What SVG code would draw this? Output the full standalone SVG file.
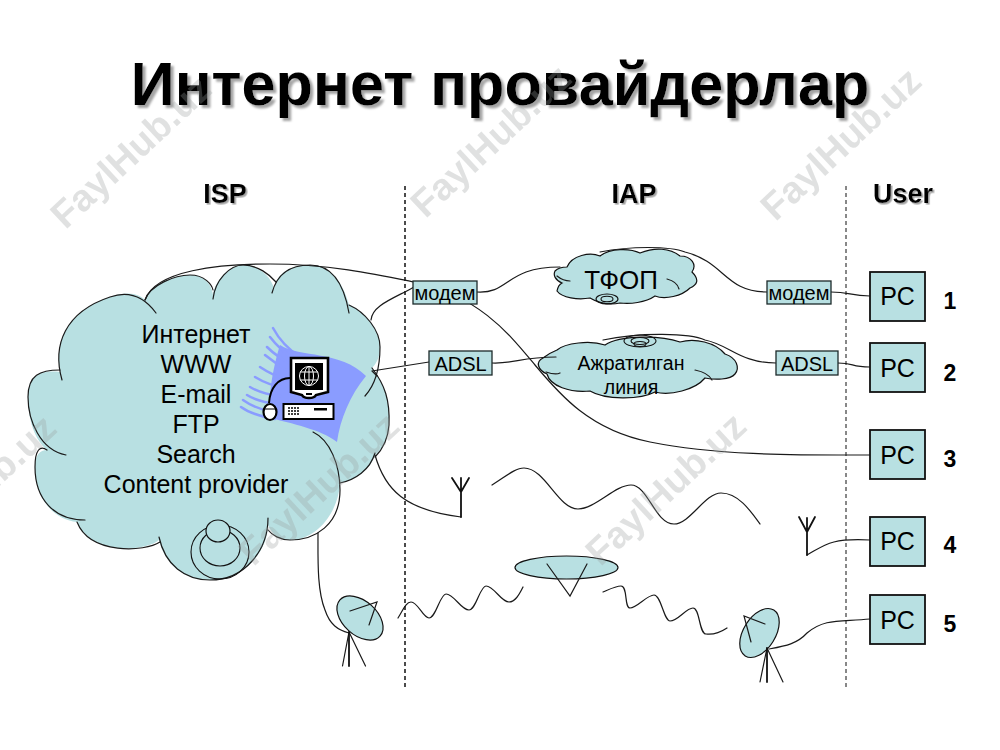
<svg xmlns="http://www.w3.org/2000/svg" width="1000" height="750" viewBox="0 0 1000 750">
<defs>
<filter id="sh1" x="-5%" y="-20%" width="110%" height="140%"><feDropShadow dx="3" dy="3" stdDeviation="0.8" flood-color="#a4a4a4"/></filter>
<filter id="sh2" x="-20%" y="-30%" width="140%" height="160%"><feDropShadow dx="1.600" dy="1.600" stdDeviation="0.6" flood-color="#a4a4a4"/></filter>
</defs>
<style>
text{font-family:"Liberation Sans",Arial,sans-serif;fill:#000}
.c{text-anchor:middle}
.title{font-size:61.200px;font-weight:700;text-anchor:middle;filter:url(#sh1)}
.head{font-size:27px;font-weight:700;text-anchor:middle;filter:url(#sh2)}
.cl{font-size:25px;text-anchor:middle}
.box{fill:#b8e0e2;stroke:#1c2a2a;stroke-width:1.3}
.pc{fill:#b8e0e2;stroke:#111;stroke-width:1.8}
.pct{font-size:25px;text-anchor:middle}
.sm{font-size:20px;text-anchor:middle}
.num{font-size:23px;font-weight:700;text-anchor:middle}
.fill{fill:#b8e0e2;stroke:none}
.ln{fill:none;stroke:#1a1a1a;stroke-width:1.2;stroke-linecap:round}
.th{fill:none;stroke:#111;stroke-width:1.8;stroke-linecap:round}
.bl{fill:none;stroke:#8a9cff;stroke-width:2.500;stroke-linecap:round}
.wm{font-size:38px;font-weight:700;fill:#9a9f9f;opacity:.3;text-anchor:middle}
.e{fill:#b8e0e2;stroke:#111;stroke-width:1.2}
.r{fill:none;stroke:#111;stroke-width:1.1}
</style>
<rect width="1000" height="750" fill="#fff"/>

<g id="title"><text class="title" x="500" y="105">Интернет провайдерлар</text></g>
<g id="headers">
<text class="head" x="225" y="203">ISP</text>
<text class="head" x="634" y="203">IAP</text>
<text class="head" x="903" y="203">User</text>
</g>
<g id="dividers">
<line x1="405" y1="186" x2="405" y2="690" stroke="#111" stroke-width="1.500" stroke-dasharray="4 3"/>
<line x1="846" y1="186" x2="846" y2="690" stroke="#111" stroke-width="1" stroke-dasharray="4 3"/>
</g>

<g id="isp-cloud">
<path class="fill" d="M62,380 C52,345 65,312 110,297 C130,290 140,295 145,300 C150,285 175,275 190,275 C205,275 212,285 213,295 C215,280 230,265 243,265 C258,265 270,275 274,288 C278,270 295,265 310,265 C335,265 345,290 349,305 C365,312 380,330 380,347 C380,355 378,362 372,368 C385,385 390,400 389,425 C388,440 382,450 375,455 C370,470 355,480 340,483 C338,515 315,540 290,540 C280,540 272,535 268,525 C268,550 245,580 210,580 C185,580 165,565 159,540 C145,552 90,555 77,522 C55,520 35,500 35,467 C35,455 40,450 47,450 C35,440 28,420 28,397 C28,375 40,370 60,372 Z"/>
<path class="ln" d="M62,380 C52,345 65,312 110,297 C130,290 145,298 156,313"/>
<path class="ln" d="M145,300 C150,285 175,275 190,275 C205,275 212,285 213,290"/>
<path class="ln" d="M213,299 C215,280 230,265 243,265 C258,265 270,275 276,282"/>
<path class="ln" d="M272,293 C278,270 295,265 310,265 C335,265 345,290 349,313"/>
<path class="ln" d="M349,305 C365,312 380,330 380,347 C380,370 375,385 365,396"/>
<path class="ln" d="M372,368 C385,385 390,400 389,425 C388,440 382,450 375,457"/>
<path class="ln" d="M375,453 C370,470 355,480 340,483"/>
<path class="ln" d="M268,518 C268,550 245,580 210,580 C185,580 165,565 159,537"/>
<path class="ln" d="M160,542 C145,552 90,555 77,522"/>
<path class="ln" d="M85,520 C55,520 35,500 35,467 C35,450 40,445 47,450"/>
<path class="ln" d="M66,455 C40,450 28,420 28,397 C28,375 40,370 60,370"/>
<g id="server-rings">
<ellipse class="r" cx="220" cy="552" rx="29" ry="27"/>
<ellipse class="r" cx="220" cy="548" rx="20" ry="18"/>
<ellipse class="e" cx="218" cy="531" rx="12" ry="11"/>
</g>
<g id="computer">
<path fill="#8a9cff" d="M280,345 C300,358 340,350 366,376 C350,395 340,420 337,442 C325,432 300,425 270,418 C268,400 272,370 280,345 Z"/>
<path class="bl" d="M273,328 Q282,345 300,357 M270,337 Q280,350 295,360 M267,347 Q278,358 295,366 M265,355 Q276,364 290,372 M260,367 Q272,375 285,379 M255,377 Q268,385 285,388 M250,387 Q262,394 280,396 M247,395 Q258,402 278,404 M243,400 Q254,408 272,412 M241,407 Q252,415 275,419"/>
<path fill="none" stroke="#000" stroke-width="2" d="M290,378 C278,378 270,388 269,403"/>
<path fill="#fff" stroke="#000" stroke-width="2.600" d="M291,358 H328 V392 L316,395 C314,399 304,399 302,395 L291,392 Z"/>
<rect x="295" y="363" width="28" height="27" fill="#000"/>
<g fill="none" stroke="#fff" stroke-width="1"><circle cx="309" cy="376" r="9.500"/><ellipse cx="309" cy="376" rx="4.500" ry="9.500"/><path d="M309,366 V386 M300,372 H318 M300,380 H318"/></g>
<rect x="306" y="393" width="6" height="2" fill="#000"/>
<rect x="283.500" y="404" width="50" height="15" fill="#fff" stroke="#000" stroke-width="2"/>
<path d="M288,408 H300 M288,411 H300 M288,414 H300" stroke="#000" stroke-width="1.500" stroke-dasharray="2 1"/>
<rect x="314" y="408" width="13" height="2.500" fill="#000"/>
<ellipse cx="270" cy="412" rx="6.500" ry="8" fill="#fff" stroke="#000" stroke-width="2.200"/>
<path d="M264,409 H276" stroke="#000" stroke-width="1"/>
</g>
<path class="ln" d="M313,432 C330,440 340,465 340,490 C340,525 315,540 290,540 C280,540 272,535 268,530"/>
<text class="cl" x="196" y="343">Интернет</text>
<text class="cl" x="196" y="373">WWW</text>
<text class="cl" x="196" y="403">E-mail</text>
<text class="cl" x="196" y="433">FTP</text>
<text class="cl" x="196" y="463">Search</text>
<text class="cl" x="196" y="493">Content provider</text>
</g>

<g id="tfop-cloud">
<path class="e" d="M567,267 C572,255 590,252 600,256 C610,248 630,248 640,253 C655,247 670,248 680,256 C692,256 697,265 692,272 C700,280 697,285 690,288 C682,296 665,300 655,296 C645,303 630,304 620,303 C610,305 600,304 590,298 C578,300 562,298 557,291 C558,286 560,284 562,283 C555,280 553,275 555,271 C558,268 562,267 567,267 Z"/>
<path class="ln" d="M557,276 C562,280 567,281 570,281 M667,279 C675,281 678,285 679,289"/>
<ellipse class="r" cx="607" cy="299" rx="11" ry="5"/><ellipse class="r" cx="607" cy="299" rx="6" ry="2.800"/>
<text x="621" y="289" class="c" font-size="26">ТФОП</text>
</g>
<g id="line-cloud">
<path class="e" d="M557,350 C565,343 590,340 605,345 C620,335 660,335 680,342 C695,338 715,342 725,354 C737,358 740,368 735,374 C730,380 715,380 705,378 C695,390 670,396 655,392 C640,400 605,400 590,391 C570,393 550,386 547,374 C538,370 535,362 543,358 C548,354 552,352 557,350 Z"/>
<path class="ln" d="M546,372 C552,374 556,375 560,373 M695,370 C705,372 710,376 712,380"/>
<ellipse class="r" cx="640" cy="341" rx="16" ry="6"/><ellipse class="r" cx="640" cy="341" rx="9" ry="3.500"/><ellipse class="r" cx="640" cy="344" rx="6" ry="2.500"/>
<text class="c" x="631" y="370" font-size="19.500">Ажратилган</text>
<text class="c" x="631" y="394" font-size="19.500">линия</text>
</g>

<g id="connectors">
<path class="ln" d="M145,300 C155,270 220,264 270,264 C330,264 380,275 414,282 C480,296 510,335 535,365 C560,395 590,430 650,442 C720,456 800,455 870,455"/>
<path class="ln" d="M371,320 C372,305 395,298 414,287"/>
<path class="ln" d="M372,371 L429,362 M372,371 L377,376"/>
<path class="ln" d="M477,292 C510,294 505,267 560,267"/>
<path class="ln" d="M600,252 C630,246 670,246 685,252 C725,262 725,292 767,292"/>
<path class="ln" d="M831,292 C850,292 850,296 870,296"/>
<path class="ln" d="M492,363 C515,364 520,357 556,357"/>
<path class="ln" d="M603,340 C640,332 690,333 705,340 C730,345 740,363 776,363"/>
<path class="ln" d="M838,363 C855,363 850,367 870,367"/>
<path class="ln" d="M375,455 C385,490 405,510 461,517"/>
<path class="ln" d="M807,555 C825,545 830,538 870,540"/>
<path class="ln" d="M318,533 C318,560 317,590 325,610 C330,625 338,630 349,633"/>
<path class="ln" d="M769,649 C785,646 797,644 807,633 C825,618 840,622 870,619"/>
</g>

<g id="modem-isp"><rect class="box" x="413" y="281" width="64" height="23"/><text class="sm" x="445" y="300">модем</text></g>
<g id="modem-user"><rect class="box" x="767" y="281" width="64" height="23"/><text class="sm" x="799" y="300">модем</text></g>
<g id="adsl-isp"><rect class="box" x="429" y="351" width="63" height="24"/><text class="sm" x="460.500" y="371">ADSL</text></g>
<g id="adsl-user"><rect class="box" x="776" y="351" width="62" height="24"/><text class="sm" x="807" y="371">ADSL</text></g>

<g id="pc1"><rect class="pc" x="870" y="272" width="55" height="49"/><text class="pct" x="897.500" y="305">PC</text></g>
<g id="pc2"><rect class="pc" x="870" y="343" width="55" height="49"/><text class="pct" x="897.500" y="377">PC</text></g>
<g id="pc3"><rect class="pc" x="870" y="430" width="55" height="49"/><text class="pct" x="897.500" y="464">PC</text></g>
<g id="pc4"><rect class="pc" x="870" y="517" width="55" height="49"/><text class="pct" x="897.500" y="550">PC</text></g>
<g id="pc5"><rect class="pc" x="870" y="595" width="55" height="49"/><text class="pct" x="897.500" y="629">PC</text></g>
<g id="numbers">
<text class="num" x="950" y="309">1</text><text class="num" x="950" y="381">2</text><text class="num" x="950" y="467">3</text><text class="num" x="950" y="553">4</text><text class="num" x="950" y="632">5</text>
</g>

<g id="antenna-1"><path class="th" d="M461,517 V478 M452,478 L461,492 L469,478"/></g>
<g id="antenna-2"><path class="th" d="M807,555 V518 M799,517 L807,532 L815,517"/></g>
<g id="wave-1"><path class="ln" d="M492,485 C505,477 515,468 524,468 C545,468 558,509 578,509 C595,509 615,485 631,485 C648,485 655,524 674,524 C690,524 705,493 721,493 C738,493 750,510 760,524"/></g>
<g id="wave-2"><path class="ln" d="M398,618 C403,610 406,602 411,602 C418,602 423,618 429,618 C436,618 440,594 446,594 C454,594 461,610 469,610 C476,610 480,586 486,586 C494,586 501,602 509,602 C515,602 519,595 523,587"/></g>
<g id="wave-3"><path class="ln" d="M603,592 C610,589 616,586 621,586 C628,586 624,608 630,608 C637,608 647,595 654,595 C661,595 664,621 670,621 C678,621 686,608 693,608 C700,608 699,634 706,634 C714,635 721,632 727,628"/></g>
<g id="satellite"><ellipse class="e" cx="566.500" cy="567.500" rx="51.500" ry="11.500"/><path class="ln" d="M547,564 L570,596 L587,564"/></g>
<g id="dish-left">
<ellipse class="e" cx="360" cy="618" rx="27" ry="17" transform="rotate(42 360 618)"/>
<path class="ln" d="M350,611 L377,602 L369,625"/>
<path class="ln" d="M349,632 L342.500,666 M365.500,666 L349,632"/><path class="th" d="M349,632 V666"/>
</g>
<g id="dish-right">
<ellipse class="e" cx="759.500" cy="633" rx="27" ry="16" transform="rotate(-58 759.500 633)"/>
<path class="ln" d="M765,624 L744,616 L751,642"/>
<path class="ln" d="M767,648 L760,682 M783,682 L767,648"/><path class="th" d="M767,648 V682"/>
</g>

<g id="watermarks">
<text class="wm" transform="translate(130,151) rotate(-43)" x="0" y="14">FaylHub.uz</text>
<text class="wm" transform="translate(490,140) rotate(-43)" x="0" y="14">FaylHub.uz</text>
<text class="wm" transform="translate(840,143) rotate(-43)" x="0" y="14">FaylHub.uz</text>
<text class="wm" transform="translate(-25,490) rotate(-43)" x="0" y="14">FaylHub.uz</text>
<text class="wm" transform="translate(318,488) rotate(-43)" x="0" y="14">FaylHub.uz</text>
<text class="wm" transform="translate(665,488) rotate(-43)" x="0" y="14">FaylHub.uz</text>
</g>
</svg>
